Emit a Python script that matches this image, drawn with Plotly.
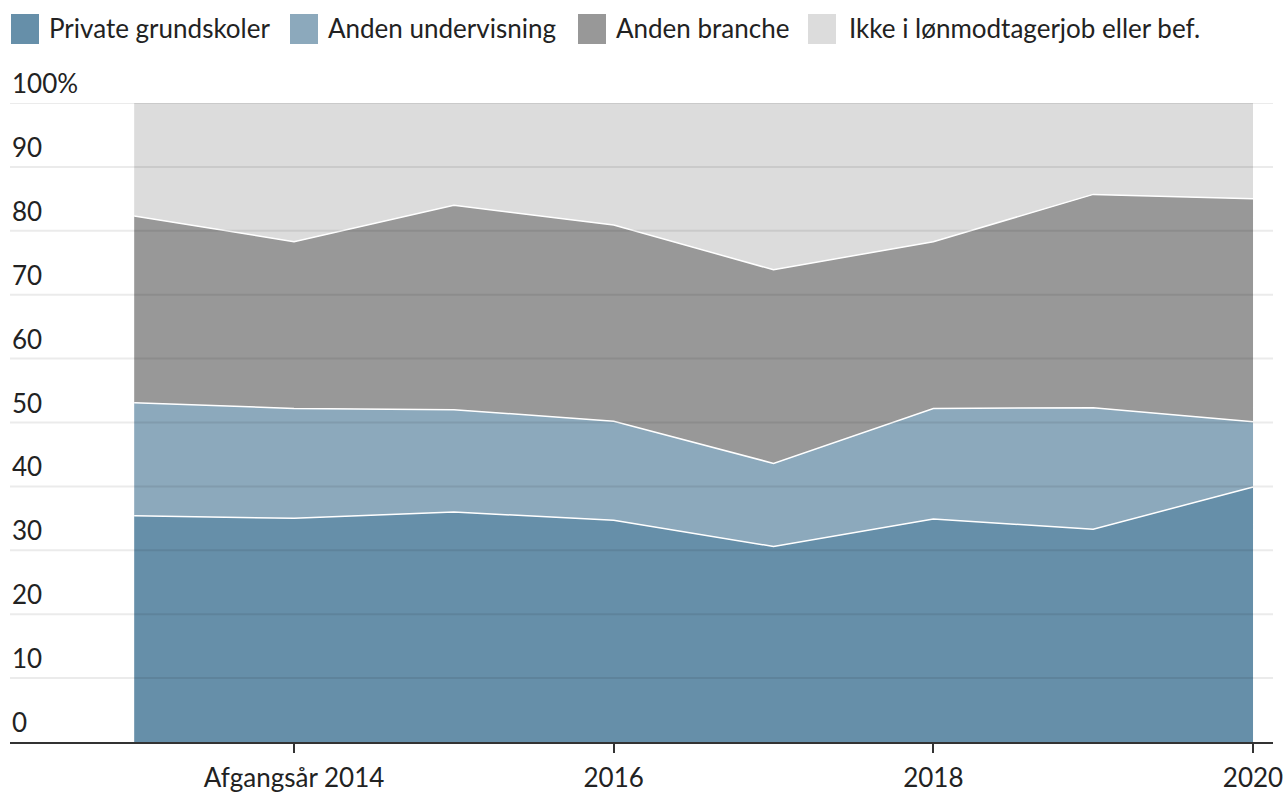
import plotly.graph_objects as go

# data
years = [2013, 2014, 2015, 2016, 2017, 2018, 2019, 2020]
private_grundskoler = [35.4, 35.0, 36.0, 34.7, 30.6, 34.9, 33.3, 39.9]
anden_undervisning = [17.7, 17.2, 16.0, 15.5, 13.0, 17.3, 19.0, 10.2]
anden_branche = [29.2, 26.1, 32.0, 30.7, 30.3, 26.1, 33.4, 34.9]
ikke_i_job = [17.7, 21.7, 16.0, 19.1, 26.1, 21.7, 14.3, 15.0]

names = ['Private grundskoler', 'Anden undervisning', 'Anden branche', 'Ikke i lønmodtagerjob eller bef.']
colors = ['#668fa9', '#8ca9bc', '#989898', '#dcdcdc']

x_tickvals = [2014, 2016, 2018, 2020]
x_ticktext = ['Afgangsår 2014', '2016', '2018', '2020']
y_tickvals = [0, 10, 20, 30, 40, 50, 60, 70, 80, 90, 100]
y_ticktext = ['0', '10', '20', '30', '40', '50', '60', '70', '80', '90', '100%']

FONT = 'Lato'
FS = 26
TXT = '#222222'

series = [private_grundskoler, anden_undervisning, anden_branche, ikke_i_job]
data = []
for i, (vals, n, c) in enumerate(zip(series, names, colors)):
    data.append(go.Scatter(
        x=years, y=vals, name=n, mode='lines', stackgroup='one',
        fillcolor=c,
        line=dict(color='white', width=0 if i == 3 else 1.5),
        hoverinfo='x+y+name',
    ))

# gridlines drawn over the areas (semi transparent)
shapes = [dict(type='line', xref='paper', yref='y', x0=0, x1=1, y0=v, y1=v,
               line=dict(color='rgba(0,0,0,0.08)', width=2), layer='above')
          for v in y_tickvals if v > 0]

# y tick labels sit above their gridline, left aligned
annotations = [dict(xref='paper', yref='y', x=0, y=v, xanchor='left', yanchor='middle',
                    yshift=20, text=t, showarrow=False,
                    font=dict(family=FONT, size=FS, color=TXT))
               for v, t in zip(y_tickvals, y_ticktext)]

# hand made legend (squares + labels), positions in pixels from plot top-left
leg_sq_x = [1, 280, 568, 798]
leg_txt_x = [37, 316, 604, 837]
for sx, tx, n, c in zip(leg_sq_x, leg_txt_x, names, colors):
    shapes.append(dict(type='rect', xref='paper', yref='paper',
                       xsizemode='pixel', ysizemode='pixel',
                       xanchor=0, yanchor=1, x0=sx, x1=sx + 28, y0=59, y1=89,
                       fillcolor=c, line=dict(width=0), layer='above'))
    annotations.append(dict(xref='paper', yref='paper', x=0, y=1, xshift=tx,
                            yshift=75, xanchor='left', yanchor='middle',
                            text=n, showarrow=False,
                            font=dict(family=FONT, size=FS, color=TXT)))

layout = go.Layout(
    width=1287, height=793,
    margin=dict(l=10, r=14, t=103, b=51),
    plot_bgcolor='white', paper_bgcolor='white',
    showlegend=False,
    font=dict(family=FONT, size=FS, color=TXT),
    xaxis=dict(range=[2012.223, 2020.125], tickvals=x_tickvals, ticktext=x_ticktext,
               showgrid=False, zeroline=False, showline=True, linecolor='#333333',
               linewidth=2, ticks='outside', ticklen=9, tickwidth=2, tickcolor='#333333',
               ticklabelstandoff=3, automargin=False,
               tickfont=dict(family=FONT, size=FS, color=TXT)),
    yaxis=dict(range=[0, 100], showticklabels=False, ticks='', automargin=False,
               showgrid=False, zeroline=False, showline=False),
    shapes=shapes,
    annotations=annotations,
)

fig = go.Figure(data=data, layout=layout)
fig.write_html('out.html', config={'displayModeBar': False})

# drop the default 8px body margin so the figure fills the window
with open('out.html', encoding='utf-8') as f:
    html = f.read()
html = html.replace('<head>', '<head><style>body{margin:0;overflow:hidden}</style>', 1)
with open('out.html', 'w', encoding='utf-8') as f:
    f.write(html)
